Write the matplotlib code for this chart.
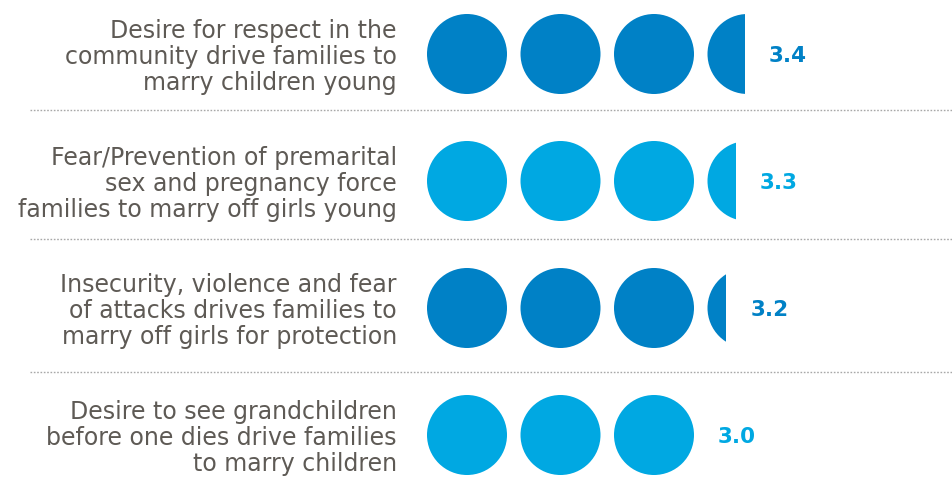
import matplotlib
matplotlib.use("Agg")
import matplotlib.pyplot as plt
from matplotlib.patches import Ellipse, Rectangle
import math

# ---- data ----
labels = [
    "Desire for respect in the\ncommunity drive families to\nmarry children young",
    "Fear/Prevention of premarital\nsex and pregnancy force\nfamilies to marry off girls young",
    "Insecurity, violence and fear\nof attacks drives families to\nmarry off girls for protection",
    "Desire to see grandchildren\nbefore one dies drive families\nto marry children",
]
values = [3.4, 3.3, 3.2, 3.0]
value_labels = ["3.4", "3.3", "3.2", "3.0"]

# ---- style / layout ----
DARK = "#0081C6"
LIGHT = "#00A8E2"
colors = [DARK, LIGHT, DARK, LIGHT]
TEXT_GREY = "#5E5A55"
SEP_GREY = "#A8A8A8"

W, H, DPI = 953, 496, 100
X0_PX = 427.0      # pixel of value 0
UNIT_PX = 93.5     # pixels per unit
ROW0_PX = 54.0     # center of first row
ROW_PX = 127.0     # row spacing
DIAM_PX = 80.0

fig = plt.figure(figsize=(W / DPI, H / DPI), dpi=DPI)
ax = fig.add_axes([0, 0, 1, 1])
ax.set_xlim(-X0_PX / UNIT_PX, (W - X0_PX) / UNIT_PX)
ax.set_ylim((H - ROW0_PX) / ROW_PX, -ROW0_PX / ROW_PX)
ax.axis("off")

dx = DIAM_PX / UNIT_PX
dy = DIAM_PX / ROW_PX
gap_px = 24.0

for i, (lab, v, vl, c) in enumerate(zip(labels, values, value_labels, colors)):
    n = math.ceil(v)
    right_edge = 0
    for k in range(n):
        e = Ellipse((k + dx / 2, i), dx, dy, facecolor=c, edgecolor="none")
        ax.add_patch(e)
        clip = Rectangle((0, i - 1), v, 2, transform=ax.transData)
        e.set_clip_path(clip)
        right_edge = max(right_edge, min(k + dx, v))
    ax.text(right_edge + gap_px / UNIT_PX, i + 2 / ROW_PX, vl, ha="left", va="center",
            fontsize=15.5, fontweight="bold", family=["DejaVu Sans"], color=c)
    ax.text(-30 / UNIT_PX, i + 3 / ROW_PX, lab, ha="right", va="center",
            fontsize=17, family=["DejaVu Sans"], color=TEXT_GREY,
            linespacing=1.12)

sep_px = [110, 239, 372]
for s in sep_px:
    ax.plot([(30 - X0_PX) / UNIT_PX, (W - X0_PX) / UNIT_PX],
            [(s - ROW0_PX) / ROW_PX] * 2, color=SEP_GREY, lw=1.0,
            linestyle=(0, (1.2, 1.2)), solid_capstyle="butt")

fig.savefig("out.png", dpi=DPI, facecolor="white")
